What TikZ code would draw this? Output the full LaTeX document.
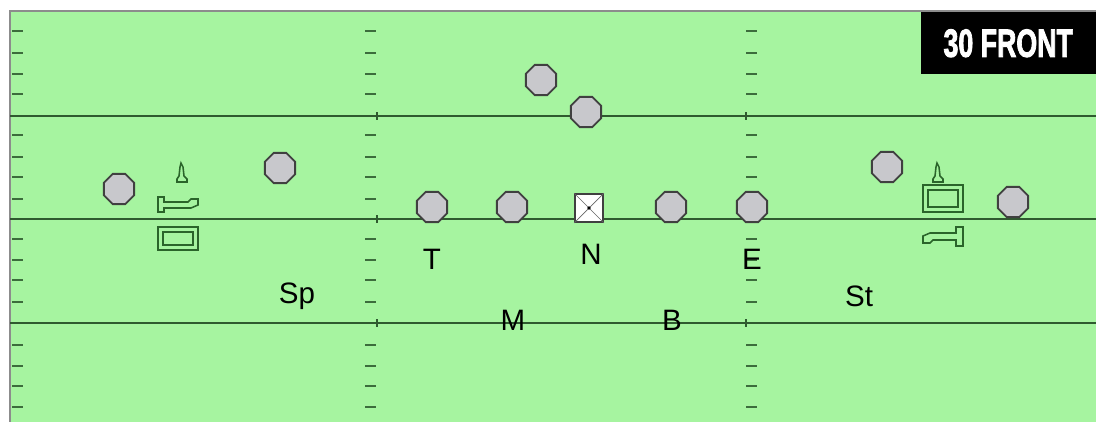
\documentclass[tikz,border=0pt]{standalone}
\usepackage{fontspec}
\setmainfont{Liberation Sans}
\newfontfamily\titlefont[FakeBold=2.5]{Liberation Sans Bold}
\usetikzlibrary{shapes.geometric}
\definecolor{turf}{HTML}{A6F4A0}
\definecolor{chalk}{HTML}{2F5A2F}
\definecolor{hashcol}{HTML}{3C6C3C}
\definecolor{helmet}{HTML}{C8C8CC}
\definecolor{iconcol}{HTML}{2A642A}

\begin{document}
\begin{tikzpicture}[x=0.25mm, y=-0.25mm,
    player/.style={regular polygon, regular polygon sides=8,
      draw=black!75, fill=helmet, line width=1.3pt, minimum size=8.2mm,
    inner sep=0pt},
    snapper/.style={rectangle, draw=black!75, fill=white, line width=1.1pt,
    minimum size=7mm, inner sep=0pt},
    poslabel/.style={font=\fontsize{21}{24}\selectfont, text=black},
    yardline/.style={draw=chalk, line width=1pt},
    hashmark/.style={draw=hashcol, line width=1.4pt},
    icon/.style={draw=iconcol, line width=1.1pt},
  ]
  \useasboundingbox (0,0) rectangle (1096,422);

  % =================== FIELD ===================
  \fill[turf] (10,11) rectangle (1096,422);
  \draw[black!45, line width=1pt] (10,422) -- (10,11) -- (1096,11);

  \draw[yardline] (10,116) -- (1096,116);
  \draw[yardline, line width=1.4pt] (10,219) -- (1096,219);
  \draw[yardline] (10,323) -- (1096,323);

  \foreach \y in {31,53,74,94,135,157,177,199,239,260,280,302,345,366,386,407} {
    \draw[hashmark] (12,\y) -- (23,\y);
    \draw[hashmark] (365,\y) -- (376,\y);
    \draw[hashmark] (746,\y) -- (757,\y);
  }
  \foreach \y in {116,219,323} {
    \draw[yardline] (377,\y-4) -- (377,\y+4);
    \draw[yardline] (746,\y-4) -- (746,\y+4);
  }

  % =================== TITLE ===================
  \node[fill=black, text=white, anchor=north east, minimum width=43.75mm,
  minimum height=15.5mm, inner sep=0pt] (title) at (1096,12)
  {\titlefont\fontsize{28}{30}\selectfont\scalebox{0.68}[1]{30 FRONT}};

  % =================== OFFENSE ===================
  \node[player] (wideL) at (119,189) {};
  \node[player] (slotL) at (280,168) {};
  \node[player] (back1) at (541,80) {};
  \node[player] (back2) at (586,112) {};
  \node[player] (lineT) at (432,207) {};
  \node[player] (lineG) at (512,207) {};
  \node[player] (lineG2) at (671,207) {};
  \node[player] (lineE) at (752,207) {};
  \node[player] (slotR) at (887,167) {};
  \node[player] (wideR) at (1013,202) {};

  \node[snapper] (ctr) at (589,208) {};
  \draw[black!60, line width=0.5pt] (ctr.north west) -- (ctr.south east)
  (ctr.north east) -- (ctr.south west);
  \fill[black] (ctr.center) circle (1.8);

  % =================== DEFENSE ===================
  \node[poslabel] (labT) at (432,259) {T};
  \node[poslabel] (labN) at (591,254) {N};
  \node[poslabel] (labE) at (752,259) {E};
  \node[poslabel] (labSp) at (297,296) {Sp};
  \node[poslabel] (labM) at (513,320) {M};
  \node[poslabel] (labB) at (672,320) {B};
  \node[poslabel] (labSt) at (859,296) {St};

  % =================== REFEREE MARKS ===================
  % left side
  \draw[icon] (177,182) -- (187,182) -- (187,179) -- (184,176) -- (183,167)
  -- (181,163) -- (180,167) -- (179,176) -- (177,179) -- cycle;
  \draw[icon] (158,197) -- (164,197) -- (164,202) -- (188,202) -- (191,199)
  -- (198,199) -- (198,205) -- (191,208) -- (164,208) -- (164,212)
  -- (158,212) -- cycle;
  \draw[icon] (158,227) rectangle (198,250);
  \draw[icon] (163,232) rectangle (193,245);

  % right side
  \draw[icon] (933,182) -- (943,182) -- (943,179) -- (940,176) -- (939,167)
  -- (937,163) -- (936,167) -- (935,176) -- (933,179) -- cycle;
  \draw[icon] (923,185) rectangle (963,212);
  \draw[icon] (928,190) rectangle (958,207);
  \draw[icon] (963,246) -- (956,246) -- (956,240) -- (933,240) -- (930,243)
  -- (923,243) -- (923,236) -- (930,233) -- (956,233) -- (956,227)
  -- (963,227) -- cycle;
\end{tikzpicture}
\end{document}
